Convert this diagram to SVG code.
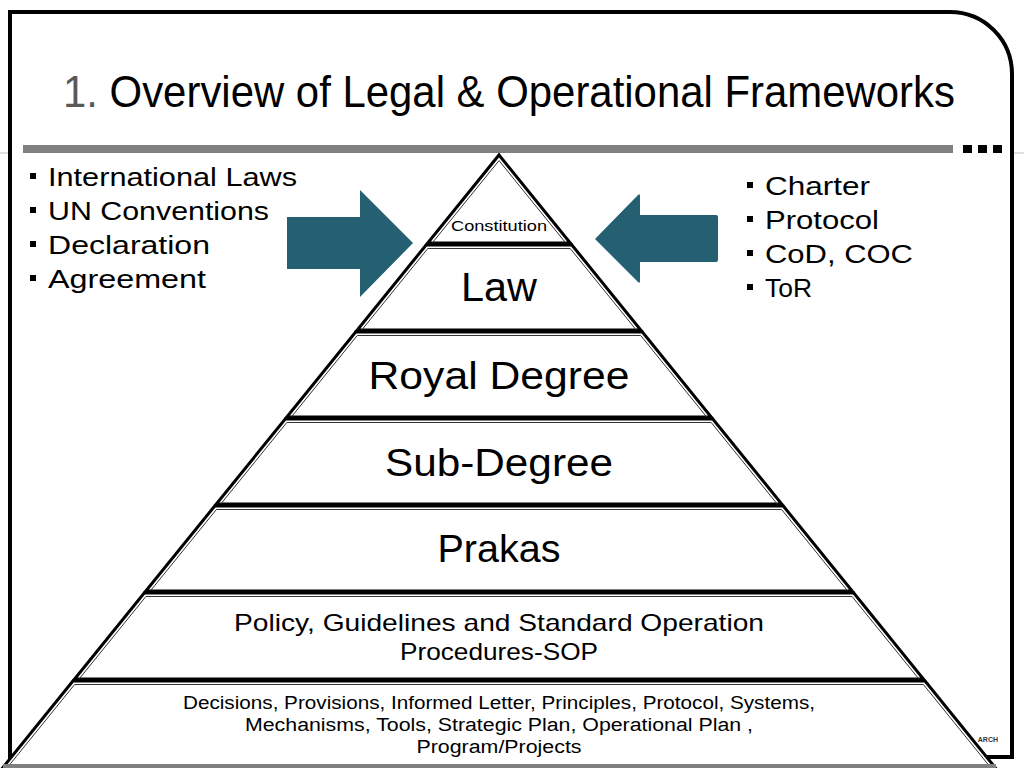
<svg xmlns="http://www.w3.org/2000/svg" width="1024" height="768" viewBox="0 0 1024 768">
<style>
.t{font-family:"Liberation Sans",Arial,sans-serif;fill:#000}
.layer{fill:#fff;stroke:#000;stroke-width:3;stroke-linejoin:miter}
.inner{fill:none;stroke:#333;stroke-width:1}
.arrow{fill:#245f72}
.bul{fill:#000}
</style>
<rect width="1024" height="768" fill="#fff"/>
<line x1="0" y1="153" x2="1024" y2="153" stroke="#c0c0c0" stroke-width="1"/>
<path d="M10 12 H950 A62 62 0 0 1 1012 74 V757 H10 Z" fill="#fff" stroke="#000" stroke-width="4"/>
<g id="title">
<text class="t" x="63" y="107" font-size="44" textLength="892" lengthAdjust="spacingAndGlyphs"><tspan fill="#595959">1. </tspan>Overview of Legal &amp; Operational Frameworks</text>
</g>
<rect x="23" y="145" width="930" height="8" fill="#808080"/>
<rect x="963" y="145" width="9" height="8" fill="#000"/>
<rect x="978" y="145" width="9" height="8" fill="#000"/>
<rect x="993" y="145" width="9" height="8" fill="#000"/>
<text x="998" y="742" font-family="Liberation Sans,Arial,sans-serif" font-size="7" font-weight="bold" fill="#333" text-anchor="end">ARCH</text>
<g id="left-list">
<rect class="bul" x="30" y="173" width="6" height="6"/>
<text class="t" x="48" y="186" font-size="25" textLength="249" lengthAdjust="spacingAndGlyphs">International Laws</text>
<rect class="bul" x="30" y="207" width="6" height="6"/>
<text class="t" x="48" y="220" font-size="25" textLength="221" lengthAdjust="spacingAndGlyphs">UN Conventions</text>
<rect class="bul" x="30" y="241" width="6" height="6"/>
<text class="t" x="48" y="254" font-size="25" textLength="162" lengthAdjust="spacingAndGlyphs">Declaration</text>
<rect class="bul" x="30" y="275" width="6" height="6"/>
<text class="t" x="48" y="288" font-size="25" textLength="158" lengthAdjust="spacingAndGlyphs">Agreement</text>
</g>
<g id="right-list">
<rect class="bul" x="747" y="182" width="6" height="6"/>
<text class="t" x="765" y="195" font-size="25" textLength="105" lengthAdjust="spacingAndGlyphs">Charter</text>
<rect class="bul" x="747" y="216" width="6" height="6"/>
<text class="t" x="765" y="229" font-size="25" textLength="114" lengthAdjust="spacingAndGlyphs">Protocol</text>
<rect class="bul" x="747" y="250" width="6" height="6"/>
<text class="t" x="765" y="263" font-size="25" textLength="148" lengthAdjust="spacingAndGlyphs">CoD, COC</text>
<rect class="bul" x="747" y="284" width="6" height="6"/>
<text class="t" x="765" y="297" font-size="25" textLength="47" lengthAdjust="spacingAndGlyphs">ToR</text>
</g>
<g id="connectors">
<path class="arrow" d="M287 217 H360 V190 L413 243 L360 297 V269 H287 Z"/>
<path class="arrow" d="M595 239 L638 195 Q640 193 640 196 V215 H716 Q718 215 718 217 V260 Q718 262 716 262 H640 V281 Q640 284 638 282 Z"/>
</g>
<g id="layer-constitution">
<polygon class="layer" points="499,155 570.3,243 427.7,243"/>
<polyline class="inner" points="432.2,243 499,160.6 565.8,243"/>
<text class="t" x="499" y="231" font-size="15" text-anchor="middle" textLength="96" lengthAdjust="spacingAndGlyphs">Constitution</text>
</g>
<g id="layer-law">
<polygon class="layer" points="426.1,245 571.9,245 640.75,330 357.25,330"/>
<polyline class="inner" points="361.75,330 427.8,248.5 570.2,248.5 636.25,330"/>
<text class="t" x="499" y="301" font-size="40" text-anchor="middle" textLength="76" lengthAdjust="spacingAndGlyphs">Law</text>
</g>
<g id="layer-royal">
<polygon class="layer" points="355.6,332 642.4,332 711.2,417 286.8,417"/>
<polyline class="inner" points="291.3,417 357.3,335.5 640.7,335.5 706.7,417"/>
<text class="t" x="499" y="389" font-size="38" text-anchor="middle" textLength="261" lengthAdjust="spacingAndGlyphs">Royal Degree</text>
</g>
<g id="layer-sub">
<polygon class="layer" points="285.2,419 712.8,419 781.7,504 216.3,504"/>
<polyline class="inner" points="220.8,504 286.8,422.5 711.2,422.5 777.2,504"/>
<text class="t" x="499" y="476" font-size="38" text-anchor="middle" textLength="228" lengthAdjust="spacingAndGlyphs">Sub-Degree</text>
</g>
<g id="layer-prakas">
<polygon class="layer" points="214.7,506 783.3,506 852.2,591 145.8,591"/>
<polyline class="inner" points="150.3,591 216.4,509.5 781.6,509.5 847.7,591"/>
<text class="t" x="499" y="562" font-size="38" text-anchor="middle" textLength="123" lengthAdjust="spacingAndGlyphs">Prakas</text>
</g>
<g id="layer-policy">
<polygon class="layer" points="144.2,593 853.8,593 923.4,679 74.6,679"/>
<polyline class="inner" points="79.1,679 145.9,596.5 852.1,596.5 918.9,679"/>
<text class="t" x="499" y="631" font-size="24" text-anchor="middle" textLength="530" lengthAdjust="spacingAndGlyphs">Policy, Guidelines and Standard Operation</text>
<text class="t" x="499" y="660" font-size="24" text-anchor="middle" textLength="198" lengthAdjust="spacingAndGlyphs">Procedures-SOP</text>
</g>
<g id="layer-decisions">
<polygon class="layer" points="72.9,681 925.1,681 995.5,768 2.5,768"/>
<polyline class="inner" points="7,768 74.6,684.5 923.4,684.5 991,768"/>
<rect x="3" y="764" width="993" height="4" fill="#808080"/>
<text class="t" x="499" y="709" font-size="18" text-anchor="middle" textLength="632" lengthAdjust="spacingAndGlyphs">Decisions, Provisions, Informed Letter, Principles, Protocol, Systems,</text>
<text class="t" x="499" y="731" font-size="18" text-anchor="middle" textLength="508" lengthAdjust="spacingAndGlyphs">Mechanisms, Tools, Strategic Plan, Operational Plan ,</text>
<text class="t" x="499" y="753" font-size="18" text-anchor="middle" textLength="165" lengthAdjust="spacingAndGlyphs">Program/Projects</text>
</g>
</svg>
